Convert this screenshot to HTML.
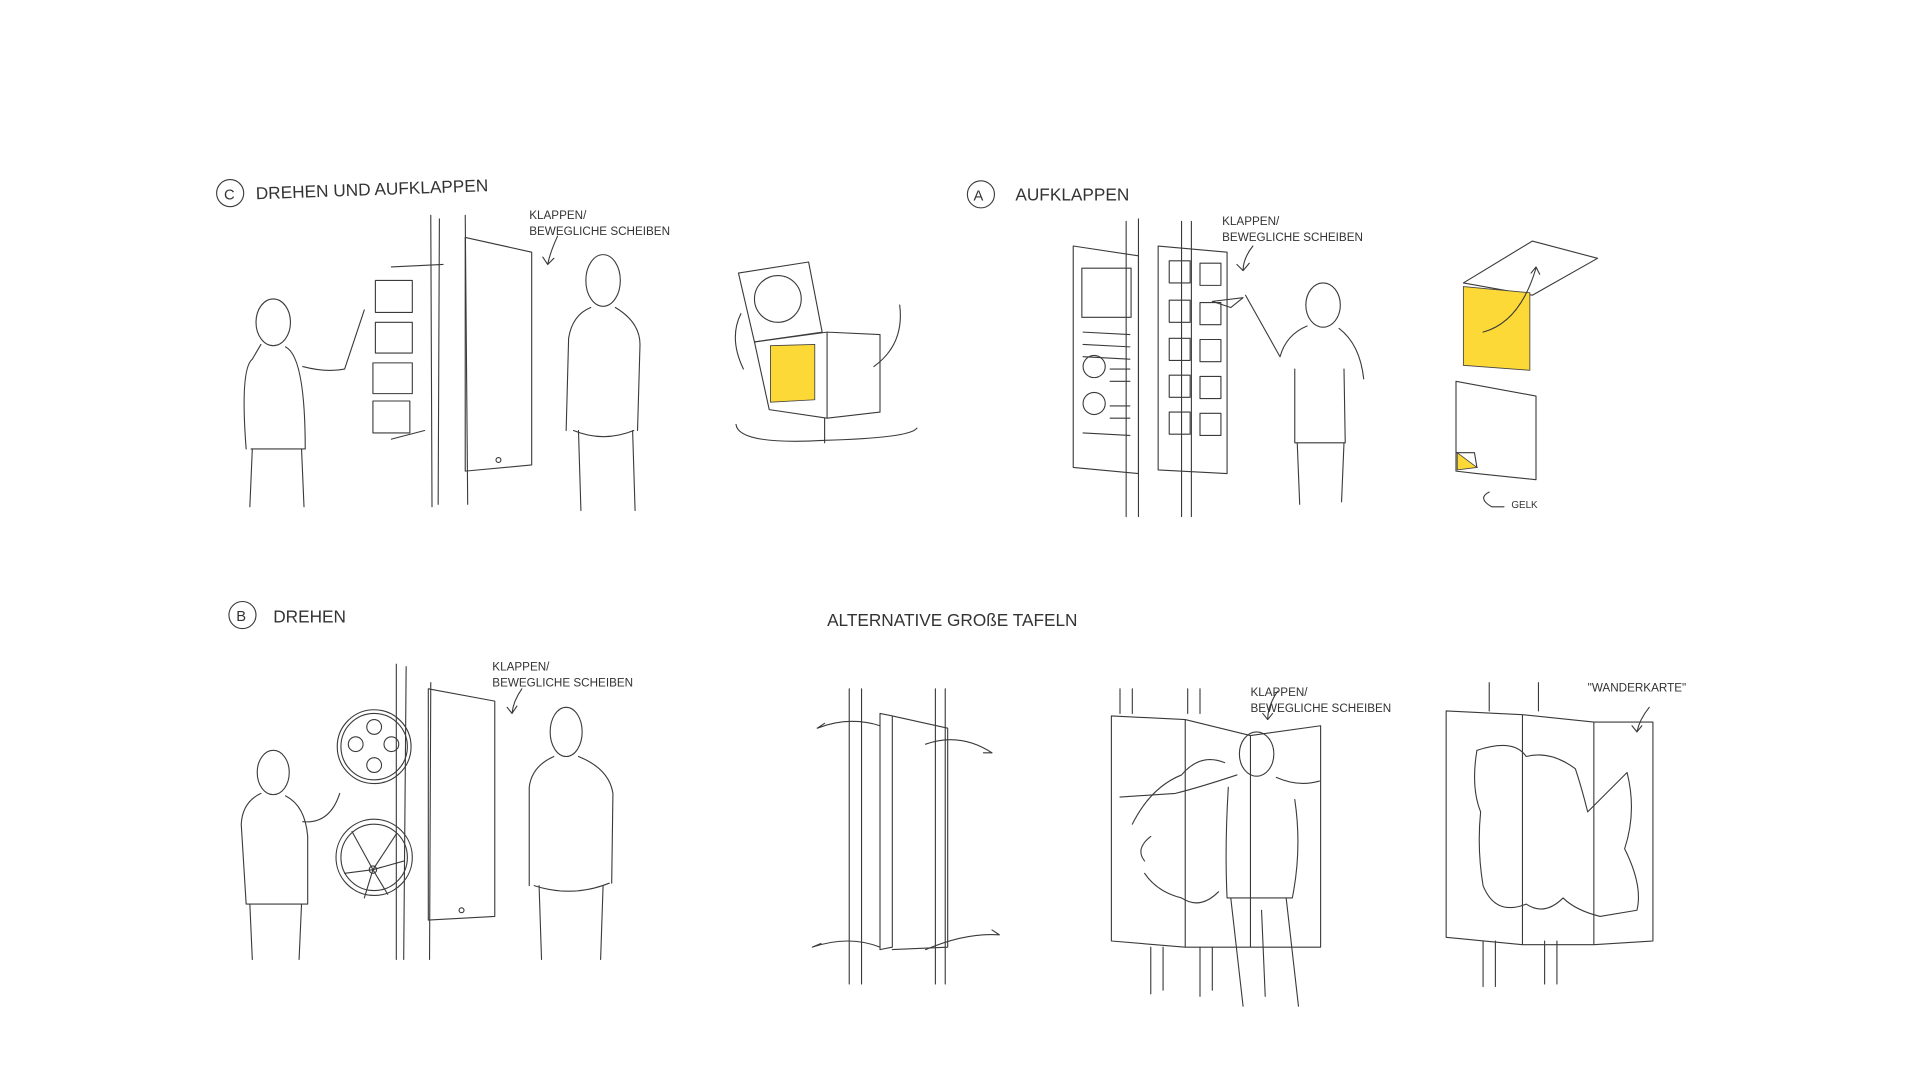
<!DOCTYPE html>
<html><head><meta charset="utf-8"><style>
html,body{margin:0;padding:0;background:#fff;}
svg{display:block}
text{font-family:"Liberation Sans",sans-serif;fill:#333;}
.s{fill:none;stroke:#3a3a3a;stroke-width:0.9;stroke-linecap:round;stroke-linejoin:round}
</style></head><body>
<svg width="1920" height="1080" viewBox="0 0 1560 878" preserveAspectRatio="none">
<rect width="1560" height="878" fill="#fff"/>
<circle cx="187" cy="157" r="11" class="s"/><text x="182" y="162" font-size="12">C</text>
<text x="208" y="162" font-size="14" transform="rotate(-2 208 162)">DREHEN UND AUFKLAPPEN</text>
<circle cx="797" cy="158" r="11" class="s"/><text x="791" y="163" font-size="12">A</text>
<text x="825" y="163" font-size="14">AUFKLAPPEN</text>
<circle cx="197" cy="500" r="11" class="s"/><text x="192" y="505" font-size="12">B</text>
<text x="222" y="506" font-size="14">DREHEN</text>
<text x="672" y="509" font-size="14">ALTERNATIVE GROßE TAFELN</text>
<g font-size="9.5">
<text x="430" y="178">KLAPPEN/</text><text x="430" y="191">BEWEGLICHE SCHEIBEN</text>
<text x="993" y="183">KLAPPEN/</text><text x="993" y="196">BEWEGLICHE SCHEIBEN</text>
<text x="400" y="545">KLAPPEN/</text><text x="400" y="558">BEWEGLICHE SCHEIBEN</text>
<text x="1016" y="566">KLAPPEN/</text><text x="1016" y="579">BEWEGLICHE SCHEIBEN</text>
<text x="1290" y="562">"WANDERKARTE"</text>
<text x="1228" y="413" font-size="8">GELK</text>
</g>
<g class="s">
<path d="M453 192 Q447 205 445 215 M441 209 l4 6 5 -5"/>
<path d="M350 175 L351 412 M357 178 L356 410 M380 410 L378 175"/>
<path d="M378 193 L432 205 L432 378 L378 383 Z"/><circle cx="405" cy="374" r="2"/>
<path d="M318 217 L360 215 M318 357 L345 350"/>
<rect x="305" y="228" width="30" height="26"/><rect x="305" y="262" width="30" height="25"/><rect x="303" y="295" width="32" height="25"/><rect x="303" y="326" width="30" height="26"/>
<ellipse cx="222" cy="262" rx="14" ry="19"/>
<path d="M212 280 L205 292 Q195 300 200 365 M232 282 Q248 290 248 365 M204 365 L248 365 M205 365 L203 412 M245 365 L247 412 M246 298 Q265 303 280 300 L296 252"/>
<ellipse cx="490" cy="228" rx="14" ry="21"/>
<path d="M480 250 Q465 256 462 275 L460 350 M500 250 Q520 262 520 280 L518 350 M466 350 Q490 360 515 350 M470 350 L472 415 M514 350 L516 415"/>
<path d="M600 222 L657 213 L668 270 L613 278 Z"/><circle cx="632" cy="243" r="19"/>
<path d="M613 278 L672 270 L715 272 L715 335 L672 340 L625 333 Z M672 270 L672 340 M598 345 Q600 362 670 358 Q740 356 745 348 M670 340 L670 360"/>
<path d="M604 300 Q592 275 602 255 M710 298 Q735 280 731 248"/>
<path d="M1018 200 Q1010 210 1010 220 M1005 215 l5 5 5 -6"/>
<path d="M915 180 L915 420 M925 178 L925 420 M960 180 L960 420 M968 180 L968 420"/>
<path d="M872 200 L925 208 L925 385 L872 380 Z"/><rect x="879" y="218" width="40" height="40"/>
<circle cx="889" cy="298" r="9"/><circle cx="889" cy="328" r="9"/>
<path d="M880 270 L918 272 M880 280 L918 282 M880 290 L918 292 M902 300 L918 300 M902 310 L918 310 M902 330 L918 330 M902 340 L918 340 M880 352 L918 354"/>
<path d="M941 200 L997 205 L997 385 L941 382 Z"/>
<rect x="950" y="212" width="17" height="18"/><rect x="975" y="214" width="17" height="18"/>
<rect x="950" y="244" width="17" height="18"/><rect x="975" y="246" width="17" height="18"/>
<rect x="950" y="275" width="17" height="18"/><rect x="975" y="276" width="17" height="18"/>
<rect x="950" y="305" width="17" height="18"/><rect x="975" y="306" width="17" height="18"/>
<rect x="950" y="335" width="17" height="18"/><rect x="975" y="336" width="17" height="18"/>
<path d="M985 245 L1010 242 L1000 250 Z"/>
<ellipse cx="1075" cy="248" rx="14" ry="18"/>
<path d="M1062 265 Q1045 272 1040 290 L1012 240 M1088 267 Q1105 280 1108 308 M1052 300 L1052 360 M1052 360 L1093 360 M1092 300 L1093 360 M1054 360 L1056 410 M1092 360 L1090 408"/>
<path d="M1189 230 L1245 196 L1298 210 L1245 240 Z"/>
<path d="M1183 310 L1248 322 L1248 390 L1200 385 L1183 383 Z"/>
<path d="M1210 400 Q1200 405 1212 412 L1222 412"/>
<path d="M424 560 Q417 570 416 580 M412 575 l4 5 4 -6"/>
<path d="M322 540 L322 780 M330 542 L328 780 M350 555 L349 780"/>
<path d="M348 560 L402 570 L402 745 L348 748 Z"/><circle cx="375" cy="740" r="2"/>
<circle cx="304" cy="607" r="30"/><circle cx="304" cy="607" r="27"/>
<circle cx="289" cy="605" r="6"/><circle cx="318" cy="605" r="6"/><circle cx="304" cy="591" r="6"/><circle cx="304" cy="622" r="6"/>
<circle cx="304" cy="697" r="31"/><circle cx="304" cy="697" r="27"/><circle cx="303" cy="707" r="3"/>
<path d="M303 707 L286 676 M303 707 L322 678 M303 707 L280 710 M303 707 L328 700 M303 707 L296 730 M303 707 L315 727"/>
<ellipse cx="222" cy="628" rx="13" ry="18"/>
<path d="M212 645 Q197 652 196 670 L200 735 M232 647 Q248 655 250 680 L250 735 M200 735 L250 735 M203 735 L205 780 M245 735 L243 780 M246 668 Q268 670 276 645"/>
<ellipse cx="460" cy="595" rx="13" ry="20"/>
<path d="M450 615 Q432 623 430 640 L430 720 M470 615 Q495 625 498 645 L497 718 M434 720 Q465 730 495 718 M438 720 L440 780 M490 720 L488 780"/>
<path d="M690 560 L690 800 M700 560 L700 800 M768 560 L768 800 M760 560 L760 800"/>
<path d="M715 580 L725 582 L725 770 L715 772 Z M725 582 L770 592 L770 770 L725 772"/>
<path d="M664 592 Q690 582 715 590 M664 592 l6 -4 M752 605 Q780 595 806 612 M806 612 l-7 0"/>
<path d="M660 770 Q690 760 715 770 M660 770 l7 -3 M752 772 Q785 758 812 760 M812 760 l-6 -4"/>
<path d="M910 560 L910 580 M920 560 L920 580 M965 560 L965 580 M975 560 L975 580 M935 770 L935 808 M945 770 L945 805 M975 770 L975 810 M985 770 L985 805"/>
<path d="M903 582 L963 585 L963 770 L903 765 Z M963 585 L1016 598 L1016 770 L963 770 M1016 598 L1073 590 L1073 770 L1016 770"/>
<path d="M1038 562 Q1030 574 1030 585 M1026 580 l4 5 4 -5"/>
<ellipse cx="1021" cy="613" rx="14" ry="18"/>
<path d="M1005 630 Q975 640 955 645 L910 648 M1037 632 Q1055 640 1072 635 M998 640 Q995 690 997 730 M1052 650 Q1058 690 1050 730 M997 730 L1050 730 M1000 730 L1010 818 M1045 730 L1055 818 M1025 740 L1028 810"/>
<path d="M920 670 Q935 640 960 630 Q975 612 995 620 M930 700 Q922 690 935 680 M930 710 Q940 725 960 730 Q975 740 990 725"/>
<path d="M1205 765 L1205 802 M1215 765 L1215 802 M1255 765 L1255 800 M1265 765 L1265 800 M1210 555 L1210 578 M1250 555 L1250 578"/>
<path d="M1175 578 L1237 581 L1237 768 L1175 762 Z M1237 581 L1295 587 L1295 768 L1237 768 M1295 587 L1343 587 L1343 765 L1295 768"/>
<path d="M1340 575 Q1332 585 1330 595 M1326 590 l4 5 4 -5"/>
<path d="M1200 610 Q1230 600 1240 615 Q1260 610 1280 625 Q1285 640 1290 660 L1322 628 Q1330 660 1320 690 Q1335 720 1330 740 L1300 745 Q1280 740 1270 730 Q1255 745 1240 735 Q1215 745 1205 720 Q1200 690 1203 660 Q1195 640 1200 610"/>
</g>
<path d="M626 281 L662 280 L662 325 L626 327 Z" fill="#fcd937" stroke="#444" stroke-width="0.7"/>
<path d="M1189 233 L1243 238 L1243 301 L1189 297 Z" fill="#fcd937" stroke="#444" stroke-width="0.7"/>
<path d="M1205 270 Q1235 262 1248 218 M1244 222 l4 -5 3 6" class="s"/>
<path d="M1184 368 L1200 380 L1184 382 Z" fill="#fcd937" stroke="#444" stroke-width="0.7"/>
<path d="M1183 368 L1198 368 L1200 380" class="s"/>
</svg>
</body></html>
